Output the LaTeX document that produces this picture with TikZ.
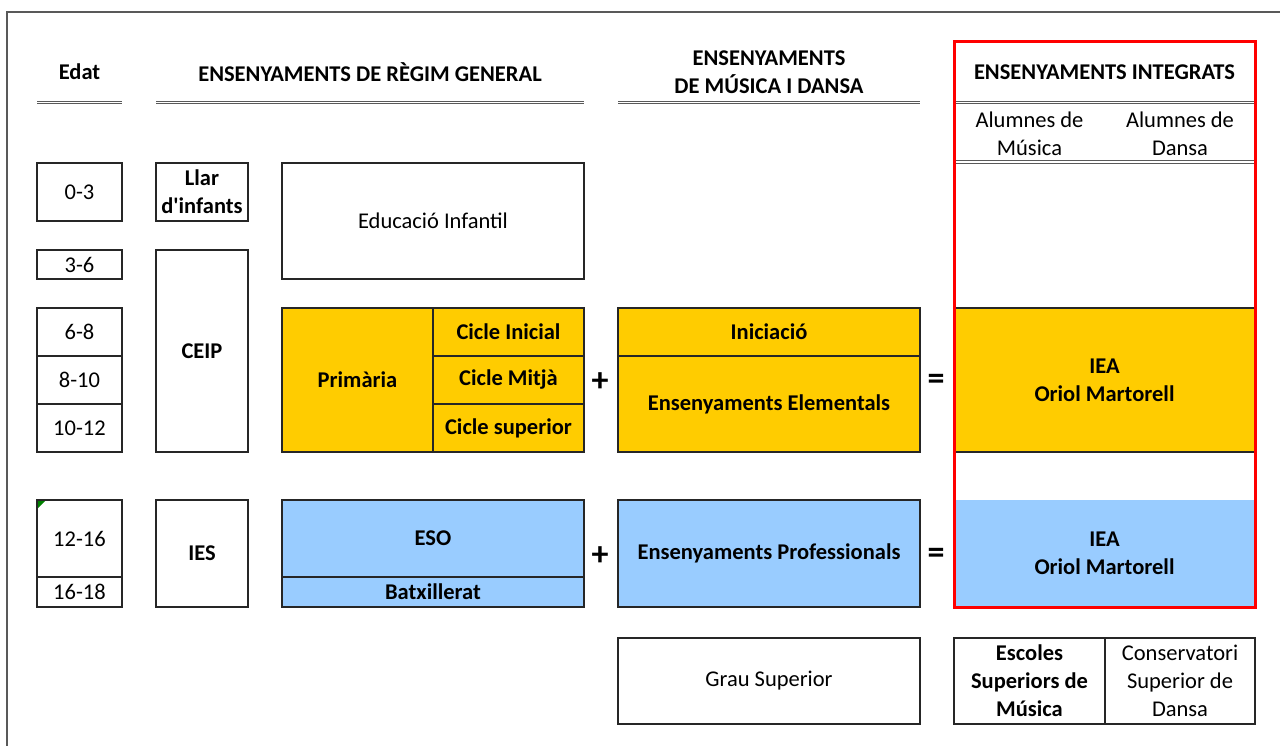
\documentclass[tikz,border=0pt]{standalone}
\usepackage{fontspec}
\setmainfont{Carlito}[Ligatures=TeXOff]
\usetikzlibrary{positioning}

\definecolor{ieayellow}{HTML}{FFCC00}
\definecolor{ieablue}{HTML}{99CCFF}
\definecolor{edge}{HTML}{262626}
\definecolor{rule}{HTML}{595959}

\tikzset{
  cell/.style={draw=edge, line width=1.2, inner sep=0, align=center},
  sz/.style 2 args={minimum width=#1, minimum height=#2},
  hdr/.style={font=\bfseries, align=center},
  dbl/.style={draw=rule, double=white, double distance=1.4, line width=1.2},
  op/.style={font=\fontsize{34}{34}\selectfont\bfseries},
}

\begin{document}
\fontsize{22.5}{28}\selectfont
\begin{tikzpicture}[x=1pt, y=-1pt]
    \useasboundingbox (0,0) rectangle (1280,746);

    % Frame
    \draw[rule, line width=1.5] (7,746) -- (7,12) -- (1280,12);

    % Headers
    \node[hdr] (edat) at (79.5,72) {Edat};
    \node[hdr] (general) at (370,72) {ENSENYAMENTS DE RÈGIM GENERAL};
    \node[hdr] (musica) at (769,72) {ENSENYAMENTS\\DE MÚSICA I DANSA};
    \node[hdr] (integrats) at (1104.5,72) {ENSENYAMENTS INTEGRATS};
    \node[align=center] (almusica) at (1029.5,134) {Alumnes de\\Música};
    \node[align=center] (aldansa) at (1180,134) {Alumnes de\\Dansa};

    \draw[dbl] (37,102.5) -- (122,102.5);
    \draw[dbl] (156,102.5) -- (584,102.5);
    \draw[dbl] (618,102.5) -- (920,102.5);
    \draw[dbl] (954,102.5) -- (1255,102.5);
    \draw[dbl] (954,162) -- (1255,162);

    % Ages
    \node[cell, sz={85}{58}] (a03) at (79.5,192) {0-3};
    \node[cell, sz={85}{29}] (a36) at (79.5,264.5) {3-6};
    \node[cell, sz={85}{48}] (a68) at (79.5,332) {6-8};
    \node[cell, sz={85}{48}] (a810) at (79.5,380) {8-10};
    \node[cell, sz={85}{48}] (a1012) at (79.5,428) {10-12};
    \node[cell, sz={85}{77}] (a1216) at (79.5,538.5) {12-16};
    \node[cell, sz={85}{30}] (a1618) at (79.5,592) {16-18};
    \fill[green!50!black] (38,501) -- (45,501) -- (38,508) -- cycle;

    % Centres
    \node[cell, sz={92}{58}, font=\bfseries] (llar) at (202,192) {Llar\\d'infants};
    \node[cell, sz={92}{202}, font=\bfseries] (ceip) at (202,351) {CEIP};
    \node[cell, sz={92}{107}, font=\bfseries] (ies) at (202,553.5) {IES};

    % Regim general
    \node[cell, sz={302}{116}] (infantil) at (433,221) {Educació Infantil};
    \node[cell, sz={151}{144}, fill=ieayellow, font=\bfseries] (primaria) at (357.5,380) {Primària};
    \node[cell, sz={151}{48}, fill=ieayellow, font=\bfseries] (inicial) at (508.5,332) {Cicle Inicial};
    \node[cell, sz={151}{48}, fill=ieayellow, font=\bfseries] (mitja) at (508.5,380) {Cicle Mitjà};
    \node[cell, sz={151}{48}, fill=ieayellow, font=\bfseries] (superior) at (508.5,428) {Cicle superior};
    \node[cell, sz={302}{77}, fill=ieablue, font=\bfseries] (eso) at (433,538.5) {ESO};
    \node[cell, sz={302}{30}, fill=ieablue, font=\bfseries] (batx) at (433,592) {Batxillerat};

    % Musica i dansa
    \node[cell, sz={302}{48}, fill=ieayellow, font=\bfseries] (iniciacio) at (769,332) {Iniciació};
    \node[cell, sz={302}{96}, fill=ieayellow, font=\bfseries] (elementals) at (769,404) {Ensenyaments Elementals};
    \node[cell, sz={302}{107}, fill=ieablue, font=\bfseries] (professionals) at (769,553.5) {Ensenyaments Professionals};
    \node[cell, sz={302}{86}] (grau) at (769,681) {Grau Superior};

    \node[op] (plus1) at (600,382) {+};
    \node[op] (plus2) at (600,556) {+};
    \node[op] (eq1) at (936,382) {=};
    \node[op] (eq2) at (936,556) {=};

    % Integrats
    \node[cell, sz={301}{144}, fill=ieayellow, font=\bfseries] (iea1) at (1104.5,380) {IEA\\Oriol Martorell};
    \node[sz={301}{107}, inner sep=0, fill=ieablue, font=\bfseries, align=center] (iea2) at (1104.5,553.5) {IEA\\Oriol Martorell};
    \draw[red, line width=3] (954,42) rectangle (1255,607);

    \node[cell, sz={151}{86}, font=\bfseries] (escoles) at (1029.5,681) {Escoles\\Superiors de\\Música};
    \node[cell, sz={150}{86}] (conservatori) at (1180,681) {Conservatori\\Superior de\\Dansa};

\end{tikzpicture}
\end{document}
